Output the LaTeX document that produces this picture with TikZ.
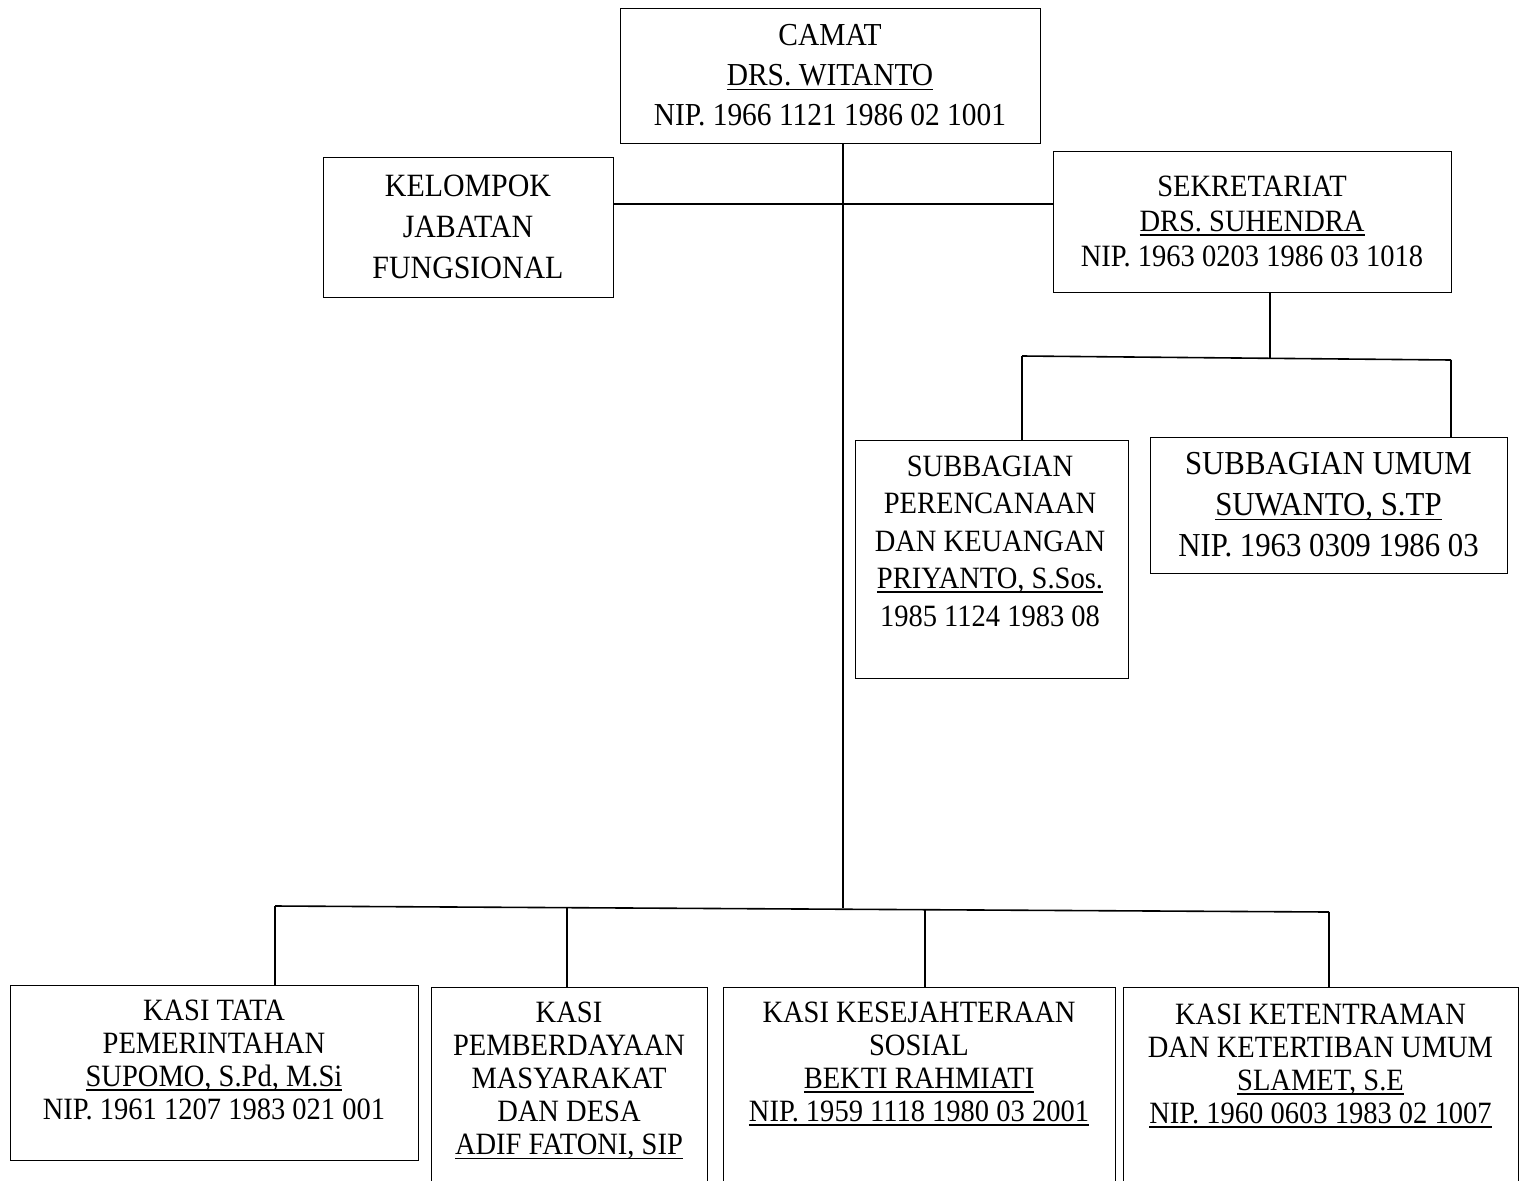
\documentclass[tikz,border=0pt]{standalone}
\usepackage{fontspec}
\setmainfont[FakeStretch=0.92]{Liberation Serif}
\newcommand{\undr}[1]{\setbox0\hbox{#1}\rlap{\rule[-4.5pt]{\wd0}{1.8pt}}\box0}
\begin{document}
\begin{tikzpicture}[x=1pt,y=-1pt,
  box/.style={draw, line width=0.9pt, inner sep=0pt},
  link/.style={line width=1.6pt},
  txt/.style={align=center, inner sep=0pt}]
\useasboundingbox (0,0) rectangle (1522,1180);

%Shape: Rectangle [camat]
\node[box, txt, minimum width=420pt, minimum height=135pt, font=\fontsize{32}{40}\selectfont] (camat) at (830,75.5) {CAMAT\\\undr{DRS. WITANTO}\\NIP. 1966 1121 1986 02 1001};
%Shape: Rectangle [kelompok]
\node[box, txt, minimum width=290pt, minimum height=140pt, font=\fontsize{32.5}{41}\selectfont] (kelompok) at (468,227) {KELOMPOK\\JABATAN\\FUNGSIONAL};
%Shape: Rectangle [sekretariat]
\node[box, txt, minimum width=398pt, minimum height=141pt, font=\fontsize{31}{35}\selectfont] (sekretariat) at (1252,221.5) {SEKRETARIAT\\\undr{DRS. SUHENDRA}\\NIP. 1963 0203 1986 03 1018};
%Shape: Rectangle [perencanaan]
\node[box, minimum width=273pt, minimum height=238pt] (perencanaan) at (991.5,559) {};
\node[txt, font=\fontsize{31}{37.5}\selectfont] (perencanaantxt) at (990,541) {SUBBAGIAN\\PERENCANAAN\\DAN KEUANGAN\\\undr{PRIYANTO, S.Sos.}\\1985 1124 1983 08};
%Shape: Rectangle [umum]
\node[box, txt, minimum width=357pt, minimum height=136pt, font=\fontsize{33.5}{41}\selectfont] (umum) at (1328.5,505) {SUBBAGIAN UMUM\\\undr{SUWANTO, S.TP}\\NIP. 1963 0309 1986 03};

%Shape: Rectangle [kasi tata pemerintahan]
\node[box, minimum width=408pt, minimum height=175pt] (kasitata) at (214,1072.5) {};
\node[txt, font=\fontsize{31}{33}\selectfont] (kasitatatxt) at (214,1060) {KASI TATA\\PEMERINTAHAN\\\undr{SUPOMO, S.Pd, M.Si}\\NIP. 1961 1207 1983 021 001};
%Shape: Rectangle [kasi pmd] (runs past the page foot)
\node[box, minimum width=276pt, minimum height=240pt] (kasipmd) at (569,1107) {};
\node[txt, font=\fontsize{31}{33}\selectfont] (kasipmdtxt) at (569,1081) {KASI\\PEMBERDAYAAN\\MASYARAKAT\\DAN DESA\\\undr{ADIF FATONI, SIP}};
%Shape: Rectangle [kasi kesos]
\node[box, minimum width=392pt, minimum height=240pt] (kasikesos) at (919,1107) {};
\node[txt, font=\fontsize{31}{33}\selectfont] (kasikesostxt) at (919,1064) {KASI KESEJAHTERAAN\\SOSIAL\\\undr{BEKTI RAHMIATI}\\\undr{NIP. 1959 1118 1980 03 2001}};
%Shape: Rectangle [kasi trantib]
\node[box, minimum width=395pt, minimum height=240pt] (kasitrantib) at (1320.5,1107) {};
\node[txt, font=\fontsize{31}{33}\selectfont] (kasitrantibtxt) at (1320.5,1065.5) {KASI KETENTRAMAN\\DAN KETERTIBAN UMUM\\\undr{SLAMET, S.E}\\\undr{NIP. 1960 0603 1983 02 1007}};

% Junctions
\coordinate (jfung) at (843,204);
\coordinate (trunkend) at (843,908);
\coordinate (sekmid) at (1270,358);
\coordinate (subl) at (1022,356);
\coordinate (subr) at (1451,360);
\coordinate (d1) at (275,906);
\coordinate (d2) at (567,908);
\coordinate (d3) at (925,910);
\coordinate (d4) at (1329,912);

%Straight Lines
\draw[link] (camat.south -| jfung) -- (trunkend);
\draw[link] (kelompok.east |- jfung) -- (sekretariat.west |- jfung);
\draw[link] (sekretariat.south -| sekmid) -- (sekmid);
\draw[link] (subl) -- (subr);
\draw[link] (subl) -- (perencanaan.north -| subl);
\draw[link] (subr) -- (umum.north -| subr);
\draw[link] (d1) -- (d4);
\foreach \d/\k in {d1/kasitata, d2/kasipmd, d3/kasikesos, d4/kasitrantib}
  \draw[link] (\d) -- (\k.north -| \d);

\end{tikzpicture}
\end{document}
